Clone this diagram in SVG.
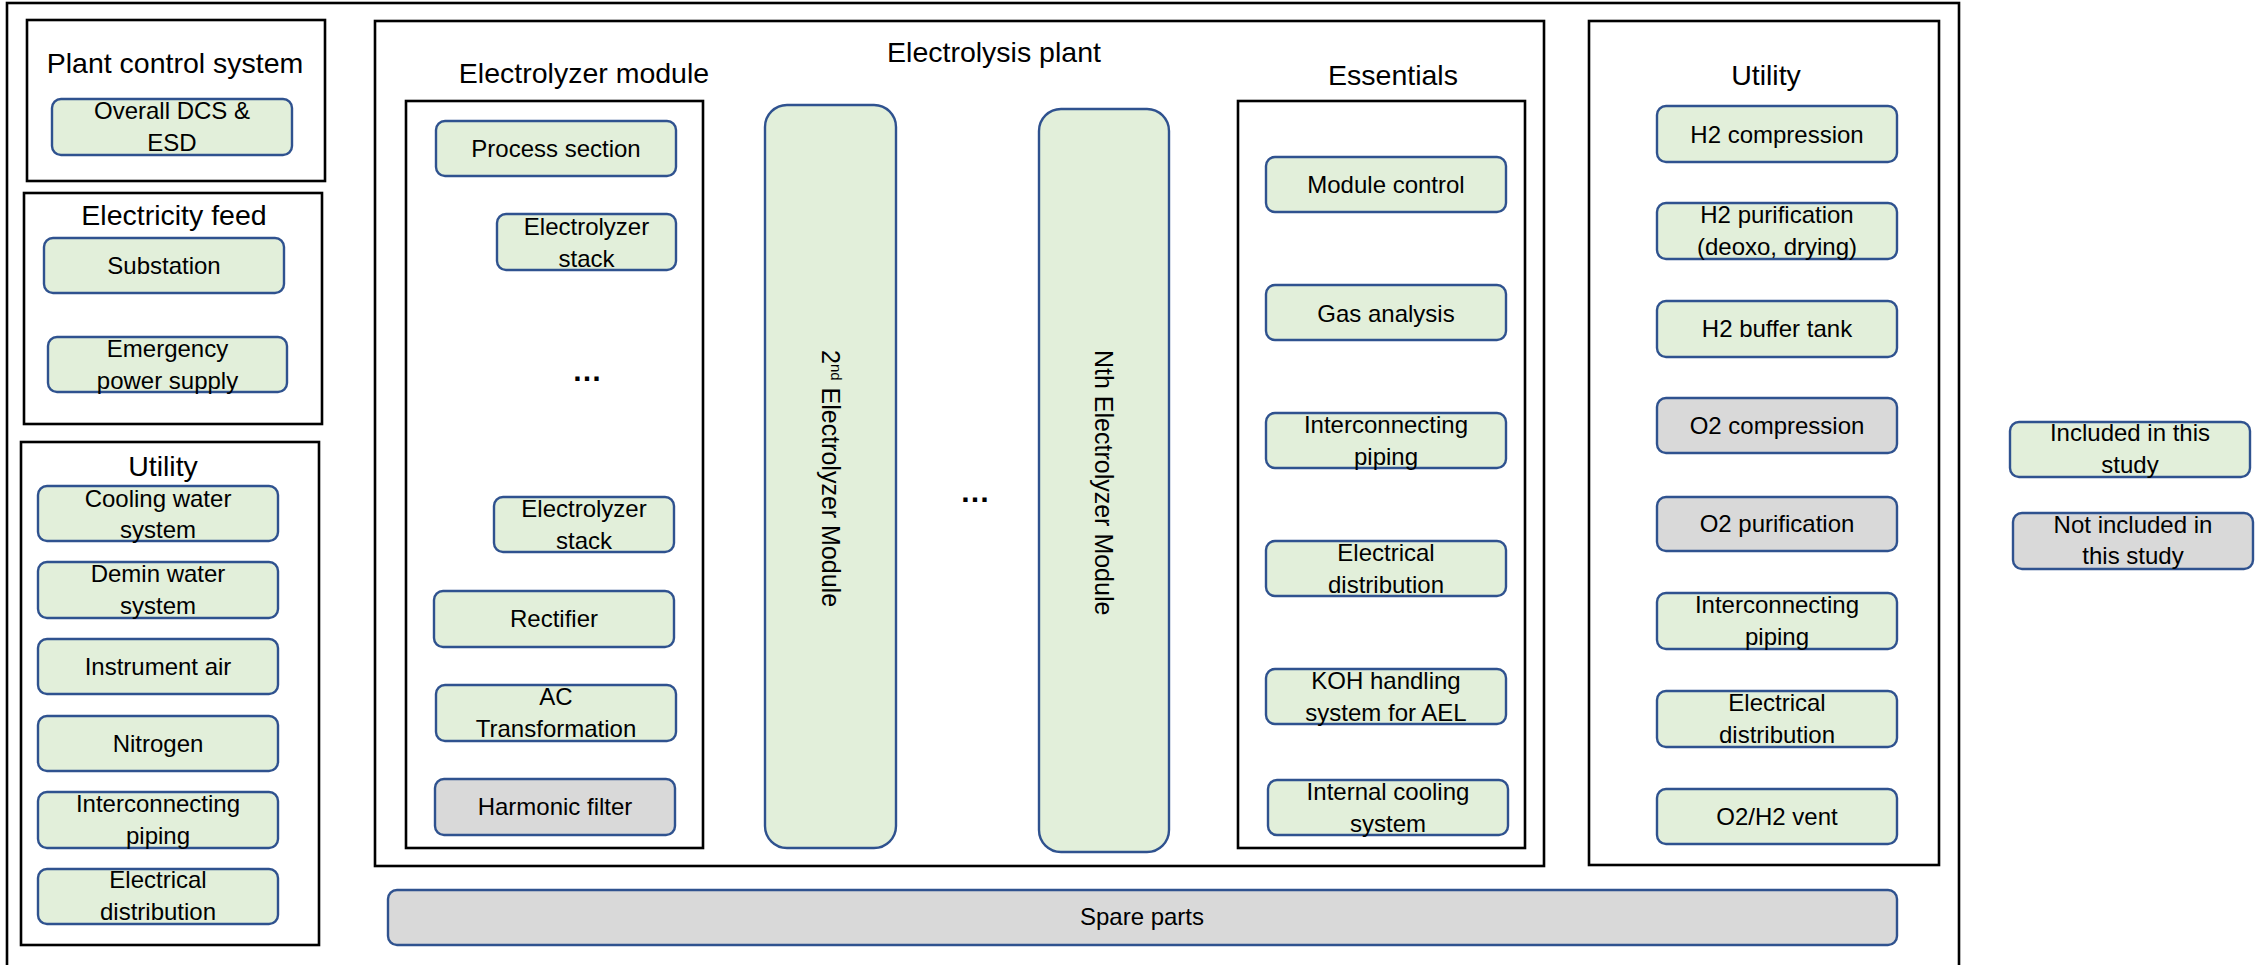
<svg xmlns="http://www.w3.org/2000/svg" width="2263" height="965" viewBox="0 0 2263 965">
<style>
.frame{fill:none;stroke:#000;stroke-width:2.6}
.g{fill:#E2EFDA;stroke:#2F528F;stroke-width:2.4}
.x{fill:#D9D9D9;stroke:#2F528F;stroke-width:2.4}
text{font-family:"Liberation Sans",Arial,sans-serif;fill:#000}
.t{font-size:24px;text-anchor:middle}
.h{font-size:28.5px;text-anchor:middle}
.r{font-size:25px}
.d{font-size:30px;font-weight:bold;text-anchor:middle}
</style>
<rect width="2263" height="965" fill="#fff"/>
<g id="outer-frame"><rect class="frame" x="7" y="3" width="1952" height="975"/></g>

<g id="plant-control-system">
<rect class="frame" x="27" y="20" width="298" height="161"/>
<text class="h" x="175" y="73">Plant control system</text>
</g>
<g id="overall-dcs-esd">
<rect class="g" x="52" y="99" width="240" height="56" rx="9"/>
<text class="t" x="172" y="119">Overall DCS &amp;</text>
<text class="t" x="172" y="151">ESD</text>
</g>

<g id="electricity-feed">
<rect class="frame" x="24" y="193" width="298" height="231"/>
<text class="h" x="174" y="225">Electricity feed</text>
</g>
<g id="substation">
<rect class="g" x="44" y="238" width="240" height="55" rx="9"/>
<text class="t" x="164" y="274">Substation</text>
</g>
<g id="emergency-power-supply">
<rect class="g" x="48" y="337" width="239" height="55" rx="9"/>
<text class="t" x="167.5" y="357">Emergency</text>
<text class="t" x="167.5" y="389">power supply</text>
</g>

<g id="utility-left">
<rect class="frame" x="21" y="442" width="298" height="503"/>
<text class="h" x="163" y="476">Utility</text>
</g>
<g id="cooling-water-system">
<rect class="g" x="38" y="486" width="240" height="55" rx="9"/>
<text class="t" x="158" y="507">Cooling water</text>
<text class="t" x="158" y="538">system</text>
</g>
<g id="demin-water-system">
<rect class="g" x="38" y="562" width="240" height="56" rx="9"/>
<text class="t" x="158" y="582">Demin water</text>
<text class="t" x="158" y="614">system</text>
</g>
<g id="instrument-air">
<rect class="g" x="38" y="639" width="240" height="55" rx="9"/>
<text class="t" x="158" y="675">Instrument air</text>
</g>
<g id="nitrogen">
<rect class="g" x="38" y="716" width="240" height="55" rx="9"/>
<text class="t" x="158" y="752">Nitrogen</text>
</g>
<g id="interconnecting-piping-left">
<rect class="g" x="38" y="792" width="240" height="56" rx="9"/>
<text class="t" x="158" y="812">Interconnecting</text>
<text class="t" x="158" y="844">piping</text>
</g>
<g id="electrical-distribution-left">
<rect class="g" x="38" y="869" width="240" height="55" rx="9"/>
<text class="t" x="158" y="888">Electrical</text>
<text class="t" x="158" y="920">distribution</text>
</g>

<g id="electrolysis-plant">
<rect class="frame" x="375" y="21" width="1169" height="845"/>
<text class="h" x="994" y="62">Electrolysis plant</text>
</g>

<g id="electrolyzer-module">
<text class="h" x="584" y="83">Electrolyzer module</text>
<rect class="frame" x="406" y="101" width="297" height="747"/>
<text class="d" x="587" y="381">…</text>
</g>
<g id="process-section">
<rect class="g" x="436" y="121" width="240" height="55" rx="9"/>
<text class="t" x="556" y="157">Process section</text>
</g>
<g id="electrolyzer-stack-1">
<rect class="g" x="497" y="214" width="179" height="56" rx="9"/>
<text class="t" x="586.5" y="235">Electrolyzer</text>
<text class="t" x="586.5" y="267">stack</text>
</g>
<g id="electrolyzer-stack-2">
<rect class="g" x="494" y="497" width="180" height="55" rx="9"/>
<text class="t" x="584" y="517">Electrolyzer</text>
<text class="t" x="584" y="549">stack</text>
</g>
<g id="rectifier">
<rect class="g" x="434" y="591" width="240" height="56" rx="9"/>
<text class="t" x="554" y="627">Rectifier</text>
</g>
<g id="ac-transformation">
<rect class="g" x="436" y="685" width="240" height="56" rx="9"/>
<text class="t" x="556" y="705">AC</text>
<text class="t" x="556" y="737">Transformation</text>
</g>
<g id="harmonic-filter">
<rect class="x" x="435" y="779" width="240" height="56" rx="9"/>
<text class="t" x="555" y="815">Harmonic filter</text>
</g>

<g id="module-2nd">
<rect class="g" x="765" y="105" width="131" height="743" rx="22"/>
<text class="r" transform="translate(822,350) rotate(90)">2<tspan font-size="15" dy="-9">nd</tspan><tspan dy="9"> Electrolyzer Module</tspan></text>
</g>
<g id="ellipsis-modules"><text class="d" x="975" y="502">…</text></g>
<g id="module-nth">
<rect class="g" x="1039" y="109" width="130" height="743" rx="22"/>
<text class="r" transform="translate(1095,350) rotate(90)">Nth Electrolyzer Module</text>
</g>

<g id="essentials">
<text class="h" x="1393" y="85">Essentials</text>
<rect class="frame" x="1238" y="101" width="287" height="747"/>
</g>
<g id="module-control">
<rect class="g" x="1266" y="157" width="240" height="55" rx="9"/>
<text class="t" x="1386" y="193">Module control</text>
</g>
<g id="gas-analysis">
<rect class="g" x="1266" y="285" width="240" height="55" rx="9"/>
<text class="t" x="1386" y="322">Gas analysis</text>
</g>
<g id="interconnecting-piping-essentials">
<rect class="g" x="1266" y="413" width="240" height="55" rx="9"/>
<text class="t" x="1386" y="433">Interconnecting</text>
<text class="t" x="1386" y="465">piping</text>
</g>
<g id="electrical-distribution-essentials">
<rect class="g" x="1266" y="541" width="240" height="55" rx="9"/>
<text class="t" x="1386" y="561">Electrical</text>
<text class="t" x="1386" y="593">distribution</text>
</g>
<g id="koh-handling">
<rect class="g" x="1266" y="669" width="240" height="55" rx="9"/>
<text class="t" x="1386" y="689">KOH handling</text>
<text class="t" x="1386" y="721">system for AEL</text>
</g>
<g id="internal-cooling">
<rect class="g" x="1268" y="780" width="240" height="55" rx="9"/>
<text class="t" x="1388" y="800">Internal cooling</text>
<text class="t" x="1388" y="832">system</text>
</g>

<g id="utility-right">
<rect class="frame" x="1589" y="21" width="350" height="844"/>
<text class="h" x="1766" y="85">Utility</text>
</g>
<g id="h2-compression">
<rect class="g" x="1657" y="106" width="240" height="56" rx="9"/>
<text class="t" x="1777" y="143">H2 compression</text>
</g>
<g id="h2-purification">
<rect class="g" x="1657" y="203" width="240" height="56" rx="9"/>
<text class="t" x="1777" y="223">H2 purification</text>
<text class="t" x="1777" y="255">(deoxo, drying)</text>
</g>
<g id="h2-buffer-tank">
<rect class="g" x="1657" y="301" width="240" height="56" rx="9"/>
<text class="t" x="1777" y="337">H2 buffer tank</text>
</g>
<g id="o2-compression">
<rect class="x" x="1657" y="398" width="240" height="55" rx="9"/>
<text class="t" x="1777" y="434">O2 compression</text>
</g>
<g id="o2-purification">
<rect class="x" x="1657" y="497" width="240" height="54" rx="9"/>
<text class="t" x="1777" y="532">O2 purification</text>
</g>
<g id="interconnecting-piping-right">
<rect class="g" x="1657" y="593" width="240" height="56" rx="9"/>
<text class="t" x="1777" y="613">Interconnecting</text>
<text class="t" x="1777" y="645">piping</text>
</g>
<g id="electrical-distribution-right">
<rect class="g" x="1657" y="691" width="240" height="56" rx="9"/>
<text class="t" x="1777" y="711">Electrical</text>
<text class="t" x="1777" y="743">distribution</text>
</g>
<g id="o2-h2-vent">
<rect class="g" x="1657" y="789" width="240" height="55" rx="9"/>
<text class="t" x="1777" y="825">O2/H2 vent</text>
</g>

<g id="spare-parts">
<rect class="x" x="388" y="890" width="1509" height="55" rx="9"/>
<text class="t" x="1142" y="925">Spare parts</text>
</g>

<g id="legend-included">
<rect class="g" x="2010" y="422" width="240" height="55" rx="9"/>
<text class="t" x="2130" y="441">Included in this</text>
<text class="t" x="2130" y="473">study</text>
</g>
<g id="legend-not-included">
<rect class="x" x="2013" y="513" width="240" height="56" rx="9"/>
<text class="t" x="2133" y="533">Not included in</text>
<text class="t" x="2133" y="564">this study</text>
</g>
<g id="connectors"></g>
</svg>
